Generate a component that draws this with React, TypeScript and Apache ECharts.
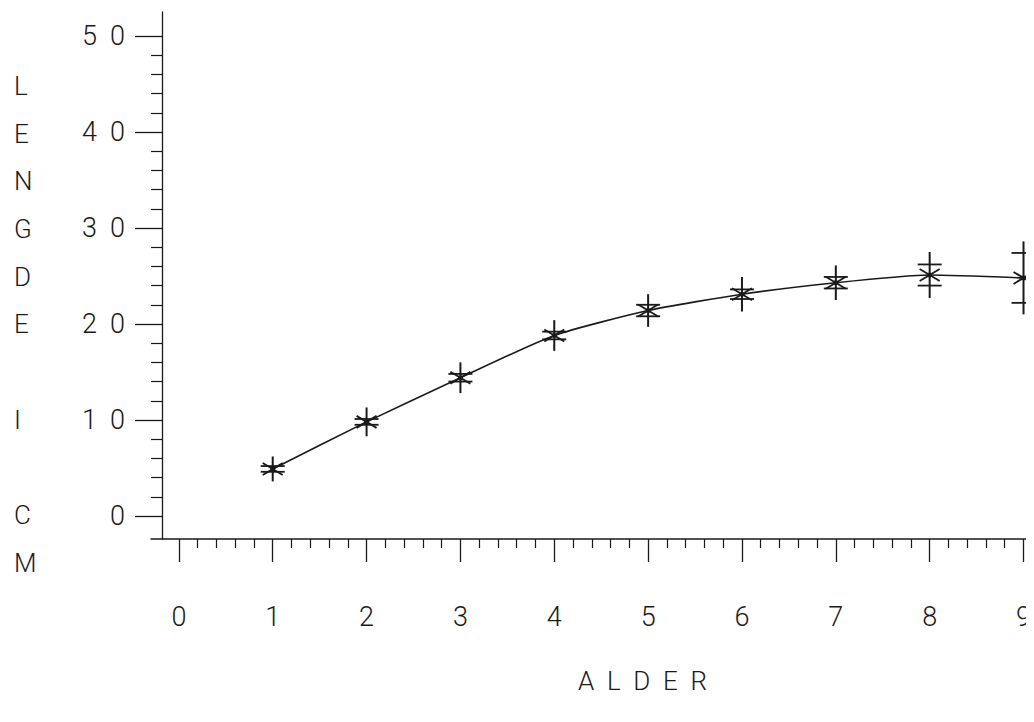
import React, { useEffect, useRef } from "react";
import * as echarts from "echarts";

// Data (age in years vs mean length in cm)
const ages = [1, 2, 3, 4, 5, 6, 7, 8, 9];
const meanLength = [4.9, 9.8, 14.4, 18.8, 21.4, 23.1, 24.3, 25.1, 24.8];
const rangeHalf = [1.3, 1.5, 1.6, 1.6, 1.7, 1.8, 1.8, 2.4, 3.8];
const capHalf = [0.3, 0.3, 0.4, 0.4, 0.6, 0.5, 0.6, 1.1, 2.6];

const xMajorTicks = [0, 1, 2, 3, 4, 5, 6, 7, 8, 9];
const xMinorTicks = [
  0.2, 0.4, 0.6, 0.8, 1.2, 1.4, 1.6, 1.8, 2.2, 2.4, 2.6, 2.8, 3.2, 3.4, 3.6, 3.8,
  4.2, 4.4, 4.6, 4.8, 5.2, 5.4, 5.6, 5.8, 6.2, 6.4, 6.6, 6.8, 7.2, 7.4, 7.6, 7.8,
  8.2, 8.4, 8.6, 8.8,
];
const yMajorTicks = [0, 10, 20, 30, 40, 50];
const yMinorTicks = [
  2, 4, 6, 8, 12, 14, 16, 18, 22, 24, 26, 28, 32, 34, 36, 38, 42, 44, 46, 48,
];

const yTitleLetters = ["L", "E", "N", "G", "D", "E", "", "I", "", "C", "M"];
const xTitle = "A  L  D  E  R";

const INK = "#1a1a1a";
const FONT = "Roboto, 'Liberation Sans', sans-serif";

export default function App() {
  const ref = useRef<HTMLDivElement>(null);

  useEffect(() => {
    if (!ref.current) return;
    const chart = echarts.init(ref.current, null, { renderer: "svg" });

    const xMin = -0.297;
    const xMax = 9.067;
    const yMin = -2.4;
    const yMax = 52.5;

    const labelStyle = {
      fontFamily: FONT,
      fontWeight: 300 as any,
      fontSize: 27,
      color: INK,
    };

    const errData = ages.map((a, i) => [a, meanLength[i], rangeHalf[i], capHalf[i]]);
    const lineData = ages.map((a, i) => [a, meanLength[i]]);

    chart.setOption({
      animation: false,
      backgroundColor: "#ffffff",
      grid: { left: 151, right: 0, top: 12, bottom: 183, containLabel: false },
      xAxis: [
        {
          type: "value",
          min: xMin,
          max: xMax,
          position: "bottom",
          axisLine: { show: true, onZero: false, lineStyle: { color: INK, width: 1.5 } },
          axisTick: {
            show: true,
            customValues: xMajorTicks,
            length: 23,
            lineStyle: { color: INK, width: 1.3 },
          },
          axisLabel: {
            show: true,
            customValues: xMajorTicks,
            margin: 64,
            ...labelStyle,
            formatter: (v: number) => String(v),
          },
          splitLine: { show: false },
        },
        {
          type: "value",
          min: xMin,
          max: xMax,
          position: "bottom",
          axisLine: { show: false, onZero: false },
          axisTick: {
            show: true,
            customValues: xMinorTicks,
            length: 9,
            lineStyle: { color: INK, width: 1.2 },
          },
          axisLabel: { show: false },
          splitLine: { show: false },
        },
      ],
      yAxis: [
        {
          type: "value",
          min: yMin,
          max: yMax,
          position: "left",
          offset: -11,
          axisLine: { show: true, onZero: false, lineStyle: { color: INK, width: 1.3 } },
          axisTick: {
            show: true,
            customValues: yMajorTicks,
            length: 27,
            lineStyle: { color: INK, width: 1.3 },
          },
          axisLabel: {
            show: true,
            customValues: yMajorTicks,
            margin: 37,
            ...labelStyle,
            formatter: (v: number) => String(v).split("").join("\u00a0\u00a0"),
          },
          splitLine: { show: false },
        },
        {
          type: "value",
          min: yMin,
          max: yMax,
          position: "left",
          offset: -11,
          axisLine: { show: false, onZero: false },
          axisTick: {
            show: true,
            customValues: yMinorTicks,
            length: 11,
            lineStyle: { color: INK, width: 1.2 },
          },
          axisLabel: { show: false },
          splitLine: { show: false },
        },
      ],
      graphic: [
        {
          type: "text",
          left: 14,
          top: 62,
          style: {
            text: yTitleLetters.join("\n"),
            font: `300 26px ${FONT}`,
            fill: INK,
            lineHeight: 47.7,
          },
        },
        {
          type: "text",
          left: 578,
          top: 668,
          style: {
            text: xTitle,
            font: `300 26px ${FONT}`,
            fill: INK,
          },
        },
      ],
      series: [
        {
          type: "line",
          xAxisIndex: 0,
          yAxisIndex: 0,
          data: lineData,
          smooth: 0.2,
          symbol: "none",
          lineStyle: { color: INK, width: 1.6 },
          z: 2,
        },
        {
          type: "custom",
          xAxisIndex: 0,
          yAxisIndex: 0,
          data: errData,
          z: 3,
          renderItem: (params: any, api: any) => {
            const x = api.value(0);
            const m = api.value(1);
            const r = api.value(2);
            const c = api.value(3);
            const p = api.coord([x, m]);
            const top = api.coord([x, m + r]);
            const bot = api.coord([x, m - r]);
            const ct = api.coord([x, m + c]);
            const cb = api.coord([x, m - c]);
            const hw = 12;
            const dx = 10;
            const dy = 6;
            const st = { stroke: INK, lineWidth: 1.8 };
            return {
              type: "group",
              children: [
                { type: "line", shape: { x1: p[0], y1: top[1], x2: p[0], y2: bot[1] }, style: { ...st, lineWidth: 2 } },
                { type: "line", shape: { x1: p[0] - hw, y1: ct[1], x2: p[0] + hw, y2: ct[1] }, style: st },
                { type: "line", shape: { x1: p[0] - hw, y1: cb[1], x2: p[0] + hw, y2: cb[1] }, style: st },
                { type: "line", shape: { x1: p[0] - dx, y1: p[1] - dy, x2: p[0] + dx, y2: p[1] + dy }, style: st },
                { type: "line", shape: { x1: p[0] - dx, y1: p[1] + dy, x2: p[0] + dx, y2: p[1] - dy }, style: st },
                { type: "circle", shape: { cx: p[0], cy: p[1], r: 2.5 }, style: { fill: INK } },
              ],
            };
          },
        },
      ],
    });

    return () => chart.dispose();
  }, []);

  return <div ref={ref} style={{ width: 1034, height: 722, margin: -8 }} />;
}
